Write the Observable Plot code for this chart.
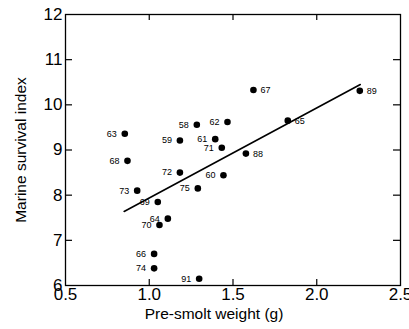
<!DOCTYPE html>
<html>
<head>
<meta charset="utf-8">
<script src="https://cdn.jsdelivr.net/npm/d3@7"></script>
<script src="https://cdn.jsdelivr.net/npm/@observablehq/plot@0.6"></script>
<style>
  html, body { margin: 0; padding: 0; background: #fff; }
  #chart svg { display: block; }
</style>
</head>
<body>
<div id="chart"></div>
<script>
// Data
const years    = ["63","68","73","69","64","70","66","74","91","58","62","59","61","71","72","60","75","88","67","65","89"];
const weight   = [0.854,0.870,0.928,1.051,1.111,1.061,1.029,1.029,1.298,1.284,1.467,1.183,1.394,1.433,1.183,1.443,1.290,1.577,1.622,1.827,2.257];
const survival = [9.36,8.76,8.10,7.85,7.48,7.34,6.70,6.38,6.15,9.56,9.62,9.21,9.24,9.05,8.50,8.44,8.15,8.92,10.33,9.65,10.31];
const rightLabeled = ["88","67","65","89"];

// Regression line endpoints
const fitX = [0.85, 2.26];
const fitY = [7.64, 10.45];

// Axes ticks
const xTicks = [0.5, 1.0, 1.5, 2.0, 2.5];
const yTicks = [6, 7, 8, 9, 10, 11, 12];
const xInner = [1.0, 1.5, 2.0];
const yInner = [7, 8, 9, 10, 11];

const xLabel = "Pre-smolt weight (g)";
const yLabel = "Marine survival index";

const points = years.map((y, i) => ({year: y, w: weight[i], s: survival[i], right: rightLabeled.includes(y)}));
const fit = fitX.map((x, i) => ({x, y: fitY[i]}));

const W = 409, H = 329;
const mL = 65, mR = 9, mT = 14, mB = 44;
const fw = W - mL - mR, fh = H - mT - mB;

const chart = Plot.plot({
  width: W,
  height: H,
  marginLeft: mL,
  marginRight: mR,
  marginTop: mT,
  marginBottom: mB,
  style: {fontFamily: "'Liberation Sans', Arial, sans-serif", background: "#fff", color: "#000"},
  x: {domain: [0.5, 2.5]},
  y: {domain: [6, 12]},
  marks: [
    Plot.frame({stroke: "#000", strokeWidth: 1.3}),
    // inward tick marks
    Plot.ruleX(xInner, {x: d => d, insetTop: fh - 6, stroke: "#000", strokeWidth: 1.2}),
    Plot.ruleX(xInner, {x: d => d, insetBottom: fh - 6, stroke: "#000", strokeWidth: 1.2}),
    Plot.ruleY(yInner, {y: d => d, insetRight: fw - 7, stroke: "#000", strokeWidth: 1.2}),
    Plot.ruleY(yInner, {y: d => d, insetLeft: fw - 7, stroke: "#000", strokeWidth: 1.2}),
    Plot.axisX({ticks: xTicks, tickFormat: d3.format(".1f"), tickSize: 0, tickPadding: 2, fontSize: 17, label: null, color: "#000"}),
    Plot.axisY({ticks: yTicks, tickFormat: d3.format("d"), tickSize: 0, tickPadding: 3, fontSize: 17, label: null, color: "#000"}),
    Plot.text([xLabel], {frameAnchor: "bottom", dy: 33, dx: -19, fontSize: 15.5, fill: "#000"}),
    Plot.text([yLabel], {frameAnchor: "left", textAnchor: "middle", dx: -44, rotate: -90, fontSize: 15.5, fill: "#000"}),
    Plot.line(fit, {x: "x", y: "y", stroke: "#000", strokeWidth: 1.6}),
    Plot.dot(points, {x: "w", y: "s", r: 3.3, fill: "#000", stroke: "none"}),
    Plot.text(points.filter(d => !d.right), {x: "w", y: "s", text: "year", textAnchor: "end", dx: -8, fontSize: 9, fill: "#000"}),
    Plot.text(points.filter(d => d.right), {x: "w", y: "s", text: "year", textAnchor: "start", dx: 7, fontSize: 9, fill: "#000"})
  ]
});
document.getElementById("chart").appendChild(chart);
</script>
</body>
</html>
